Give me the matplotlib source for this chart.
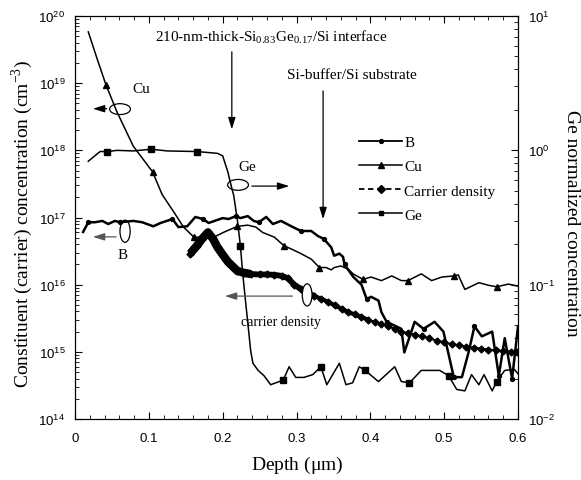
import matplotlib
matplotlib.use("Agg")
import matplotlib.pyplot as plt
from matplotlib.lines import Line2D
from matplotlib.patches import Ellipse

plt.rcParams['font.family'] = ['Liberation Serif', 'DejaVu Serif']

# B profile (cm^-3)
depth_b = [0.011, 0.018, 0.027, 0.037, 0.045, 0.054, 0.061, 0.079, 0.091, 0.106,
           0.116, 0.132, 0.140, 0.152, 0.163, 0.173, 0.181, 0.200, 0.208, 0.218,
           0.224, 0.234, 0.242, 0.249, 0.259, 0.268, 0.279, 0.293, 0.306, 0.320,
           0.329, 0.337, 0.347, 0.351, 0.358, 0.363, 0.365, 0.377, 0.388, 0.395,
           0.401, 0.411, 0.415, 0.422, 0.442, 0.446, 0.460, 0.472, 0.487, 0.499,
           0.513, 0.524, 0.533, 0.541, 0.551, 0.565, 0.574, 0.582, 0.592, 0.600]
b_conc = [6.1e16, 8.5e16, 8.5e16, 8.9e16, 8.0e16, 8.9e16, 8.5e16, 8.9e16, 8.5e16, 7.4e16,
          8.3e16, 9.5e16, 7.2e16, 7.4e16, 1.02e17, 9.5e16, 8.3e16, 9.8e16, 9.5e16, 1.05e17,
          9.8e16, 1.05e17, 8.9e16, 8.5e16, 1.02e17, 8.0e16, 8.9e16, 7.4e16, 6.3e16, 6.3e16,
          5.3e16, 4.8e16, 3.6e16, 2.7e16, 2.9e16, 2.6e16, 2.0e16, 1.3e16, 1.0e16, 6.1e15,
          6.6e15, 5.8e15, 3.9e15, 2.8e15, 2.2e15, 9.8e14, 2.8e15, 2.2e15, 2.8e15, 2.0e15,
          4.2e14, 4.2e14, 9.8e14, 2.4e15, 1.7e15, 2.0e15, 4.4e14, 1.6e15, 4.0e14, 2.4e15]

# Cu profile (cm^-3)
depth_cu = [0.018, 0.030, 0.042, 0.057, 0.079, 0.105, 0.118, 0.134, 0.147, 0.161,
            0.188, 0.201, 0.220, 0.234, 0.245, 0.254, 0.270, 0.283, 0.293, 0.306,
            0.320, 0.331, 0.340, 0.347, 0.351, 0.360, 0.370, 0.377, 0.390, 0.401,
            0.415, 0.429, 0.442, 0.451, 0.469, 0.483, 0.497, 0.513, 0.519, 0.528,
            0.547, 0.560, 0.571, 0.587, 0.600]
cu_conc = [5.8e19, 2.3e19, 9.4e18, 3.7e18, 1.15e18, 4.8e17, 2.2e17, 1.2e17, 7.2e16, 5.1e16,
           5.1e16, 6.0e16, 7.4e16, 7.7e16, 7.2e16, 6.0e16, 5.1e16, 3.8e16, 3.4e16, 2.9e16,
           2.4e16, 1.8e16, 1.8e16, 1.66e16, 1.8e16, 1.9e16, 1.7e16, 1.44e16, 1.2e16, 1.3e16,
           1.15e16, 1.35e16, 1.15e16, 1.15e16, 1.45e16, 1.15e16, 1.3e16, 1.35e16, 1.4e16, 8.5e15,
           1.07e16, 9.8e15, 9.3e15, 1.02e16, 9.5e15]

# carrier density (cm^-3)
depth_cd = [0.156, 0.165, 0.172, 0.180, 0.187, 0.193, 0.200, 0.207, 0.214, 0.220,
            0.229, 0.238, 0.250, 0.260, 0.270, 0.280, 0.288, 0.297, 0.306, 0.315,
            0.324, 0.333, 0.342, 0.352, 0.361, 0.370, 0.379, 0.388, 0.397, 0.406,
            0.415, 0.424, 0.433, 0.442, 0.451, 0.460, 0.470, 0.480, 0.490, 0.500,
            0.510, 0.520, 0.530, 0.540, 0.550, 0.560, 0.570, 0.580, 0.590, 0.599]
cd_conc = [2.9e16, 3.8e16, 4.8e16, 6.0e16, 4.8e16, 3.6e16, 2.8e16, 2.2e16, 1.85e16, 1.6e16,
           1.5e16, 1.44e16, 1.42e16, 1.42e16, 1.40e16, 1.35e16, 1.25e16, 1.0e16, 8.6e15, 7.5e15,
           6.8e15, 6.2e15, 5.6e15, 4.9e15, 4.4e15, 3.9e15, 3.6e15, 3.3e15, 3.0e15, 2.8e15,
           2.6e15, 2.4e15, 2.2e15, 2.0e15, 1.9e15, 1.8e15, 1.7e15, 1.6e15, 1.46e15, 1.38e15,
           1.3e15, 1.25e15, 1.2e15, 1.15e15, 1.12e15, 1.08e15, 1.05e15, 1.03e15, 1.01e15, 1.0e15]

# Ge normalized concentration (right axis)
depth_ge = [0.018, 0.034, 0.044, 0.057, 0.079, 0.103, 0.125, 0.165, 0.193, 0.200,
            0.207, 0.211, 0.215, 0.220, 0.224, 0.227, 0.234, 0.238, 0.241, 0.248,
            0.256, 0.265, 0.282, 0.290, 0.299, 0.310, 0.322, 0.333, 0.341, 0.358,
            0.367, 0.376, 0.385, 0.393, 0.411, 0.433, 0.442, 0.453, 0.469, 0.494,
            0.506, 0.517, 0.528, 0.537, 0.547, 0.554, 0.565, 0.571, 0.582, 0.595, 0.601]
ge_norm = [0.83, 0.98, 0.98, 1.0, 0.99, 1.02, 0.99, 0.98, 0.95, 0.91,
           0.69, 0.56, 0.46, 0.30, 0.195, 0.123, 0.052, 0.032, 0.026, 0.023,
           0.021, 0.018, 0.0195, 0.0245, 0.0204, 0.0204, 0.0214, 0.0245, 0.018, 0.026,
           0.018, 0.0186, 0.0245, 0.023, 0.019, 0.0245, 0.019, 0.0186, 0.023, 0.023,
           0.021, 0.0166, 0.0162, 0.0214, 0.018, 0.0214, 0.0162, 0.019, 0.023, 0.0234, 0.0214]

legend_labels = ['B', 'Cu', 'Carrier density', 'Ge']

fig = plt.figure(figsize=(5.81, 4.81), dpi=100)
ax = fig.add_axes([0.1291, 0.1268, 0.7625, 0.8378])

ax.plot(depth_b, b_conc, color='black', lw=1.8, marker='o', ms=2.8,
        markevery=[1, 6, 11, 15, 19, 23, 28, 31, 36, 39, 43, 47, 50, 53, 56, 58])
ax.plot(depth_cu, cu_conc, color='black', lw=1.1, marker='^', ms=5,
        markevery=[2, 5, 9, 12, 17, 21, 28, 33, 37, 42])

# carrier density: dense overlapping diamonds look like a thick band on the left
ax.plot(depth_cd, cd_conc, color='black', lw=1.5, marker='D', ms=3.5)
for limit, width in [(0.40, 3.0), (0.33, 4.2), (0.24, 6.0)]:
    n = len([d for d in depth_cd if d <= limit])
    ax.plot(depth_cd[:n], cd_conc[:n], color='black', lw=width, solid_capstyle='butt')

ax.set_yscale('log')
ax.set_xlim(0, 0.6)
ax.set_ylim(1e14, 1e20)
ax.set_xticks([0, 0.1, 0.2, 0.3, 0.4, 0.5, 0.6])
ax.set_xticklabels(['0', '0.1', '0.2', '0.3', '0.4', '0.5', '0.6'])
ax.set_xticks([i * 0.02 for i in range(31)], minor=True)
ax.tick_params(which='both', direction='in', top=True, labelfontfamily='Liberation Sans',
               labelsize=9.5)
ax.tick_params(which='major', length=5)
ax.tick_params(which='minor', length=3)
ax.tick_params(axis='x', pad=9)
ax.tick_params(axis='y', pad=7)

ax2 = ax.twinx()
ax2.plot(depth_ge, ge_norm, color='black', lw=1.1, marker='s', ms=4,
         markevery=[2, 5, 7, 14, 22, 27, 33, 37, 40, 47])
ax2.set_yscale('log')
ax2.set_ylim(1e-2, 1e1)
ax2.tick_params(which='both', direction='in', labelfontfamily='Liberation Sans',
                labelsize=9.5, pad=7)
ax2.tick_params(which='major', length=5)
ax2.tick_params(which='minor', length=3)

# legend
handles = [
    Line2D([], [], color='black', lw=1.3, marker='o', ms=2.8),
    Line2D([], [], color='black', lw=1.1, marker='^', ms=5),
    Line2D([], [], color='black', lw=1.3, ls=(0, (3, 2)), marker='D', ms=4),
    Line2D([], [], color='black', lw=1.1, marker='s', ms=3.5),
]
ax2.legend(handles, legend_labels, loc='upper left', bbox_to_anchor=(0.642, 0.703),
           frameon=False, borderpad=0, borderaxespad=0, handlelength=2.8,
           handletextpad=0.15, labelspacing=0.68, fontsize=11)

# annotations
tr = ax2.transAxes
ax2.text(0.181, 0.950, r'210-nm-thick-Si$_\mathregular{0.83}$Ge$_\mathregular{0.17}$/Si interface',
         transform=tr, fontsize=11, va='center', ha='left')
ax2.text(0.479, 0.854, 'Si-buffer/Si substrate', transform=tr, fontsize=11,
         va='center', ha='left')
arrow = dict(arrowstyle='-|>,head_length=0.7,head_width=0.22', color='black', lw=0.9)
ax2.annotate('', xy=(0.354, 0.712), xytext=(0.354, 0.918), xycoords=tr, textcoords=tr,
             arrowprops=arrow)
ax2.annotate('', xy=(0.560, 0.489), xytext=(0.560, 0.821), xycoords=tr, textcoords=tr,
             arrowprops=arrow)

# Cu tag
ax2.add_patch(Ellipse((0.1016, 0.769), 0.047, 0.027, transform=tr, fill=False, lw=0.9))
ax2.text(0.129, 0.819, 'Cu', transform=tr, fontsize=11, va='center', ha='left')
ax2.annotate('', xy=(0.034, 0.770), xytext=(0.078, 0.770), xycoords=tr, textcoords=tr,
             arrowprops=arrow)
# Ge tag
ax2.add_patch(Ellipse((0.368, 0.581), 0.047, 0.027, transform=tr, fill=False, lw=0.9))
ax2.text(0.388, 0.627, 'Ge', transform=tr, fontsize=11, va='center', ha='center')
ax2.annotate('', xy=(0.490, 0.578), xytext=(0.393, 0.578), xycoords=tr, textcoords=tr,
             arrowprops=arrow)
# B tag
gray = dict(arrowstyle='-|>,head_length=0.7,head_width=0.22', color='#555555', lw=0.9)
ax2.add_patch(Ellipse((0.113, 0.466), 0.023, 0.055, transform=tr, fill=False, lw=0.9))
ax2.text(0.108, 0.409, 'B', transform=tr, fontsize=11, va='center', ha='center')
ax2.annotate('', xy=(0.034, 0.452), xytext=(0.099, 0.452), xycoords=tr, textcoords=tr,
             arrowprops=gray)
# carrier density tag
ax2.add_patch(Ellipse((0.524, 0.308), 0.022, 0.055, transform=tr, lw=0.9,
                      facecolor='white', edgecolor='black'))
ax2.text(0.465, 0.241, 'carrier density', transform=tr, fontsize=10, va='center',
         ha='center')
ax2.annotate('', xy=(0.332, 0.305), xytext=(0.497, 0.305), xycoords=tr, textcoords=tr,
             arrowprops=gray)

# axis labels
fig.text(0.511, 0.0333, r'Depth ($\mathregular{\mu}$m)', fontsize=14, ha='center', va='center')
fig.text(0.0379, 0.535, r'Constituent (carrier) concentration (cm$^\mathregular{-3}$)',
         fontsize=14, ha='center', va='center', rotation=90)
fig.text(0.9845, 0.536, 'Ge normalized concentration', fontsize=14, ha='center',
         va='center', rotation=270)

fig.savefig('out.png', dpi=100)
